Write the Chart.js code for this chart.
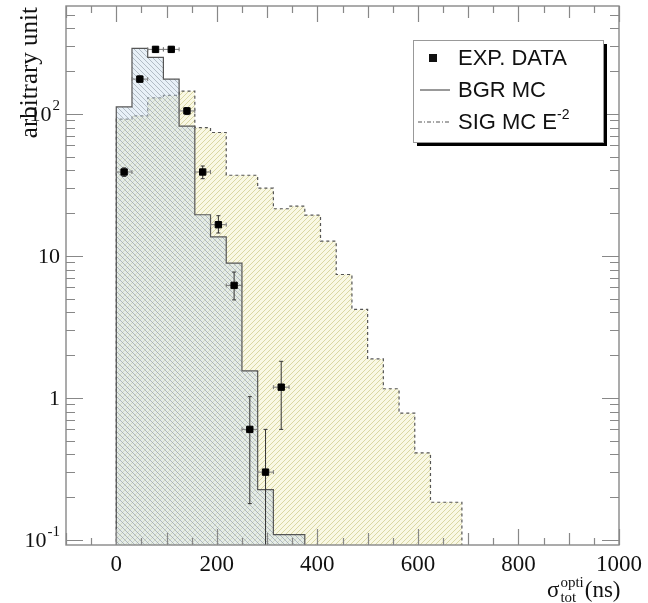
<!DOCTYPE html>
<html>
<head>
<meta charset="utf-8">
<script src="https://cdn.jsdelivr.net/npm/chart.js@4/dist/chart.umd.min.js"></script>
<style>
  html, body { margin: 0; padding: 0; background: #fff; }
</style>
</head>
<body>
<canvas id="chart" width="648" height="603"></canvas>
<script>
// histogram binning (ns)
const binWidth = 31.25;

// signal MC (E^-2), one value per bin starting at 0 ns
const sigValues = [8.8, 92, 97, 130, 135, 145, 80, 74, 37, 37, 30, 21.5,
                   22.4, 19.4, 12.7, 7.4, 4.2, 1.88, 1.16, 0.78, 0.41, 0.184];

// background MC
const bgrValues = [0.54, 112, 290, 250, 176, 82, 19.5, 13.6, 8.9, 1.55, 0.226, 0.109];

// experimental data with errors
const dataX     = [15.6, 46.9, 78.1, 109.4, 140.6, 171.9, 203.1, 234.4, 265.6, 296.9, 328.1];
const dataY     = [39, 176, 285, 285, 105, 39, 16.6, 6.2, 0.60, 0.30, 1.19];
const dataYLow  = [36.3, 168, 272, 272, 99, 35, 14.5, 4.9, 0.18, 0.01, 0.6];
const dataYHigh = [41.7, 185, 298, 298, 111, 43, 19.2, 7.7, 1.02, 0.6, 1.81];
const dataXErr  = 15.6;

// axes
const xMin = -100, xMax = 1000;
const yMin = 0.092, yMax = 576;
const xTickValues = [0, 200, 400, 600, 800, 1000];
const yTickValues = [0.1, 1, 10, 100];
const yTickLabels = [["10", "-1"], ["1", ""], ["10", ""], ["10", "2"]];

const SERIF = "'Liberation Serif', 'DejaVu Serif', serif";
const SANS = "'Liberation Sans', Arial, sans-serif";

const ctx = document.getElementById("chart").getContext("2d");

function hatch(bg, line, dir) {
  const s = 5;
  const c = document.createElement("canvas");
  c.width = s; c.height = s;
  const g = c.getContext("2d");
  g.fillStyle = bg;
  g.fillRect(0, 0, s, s);
  g.strokeStyle = line;
  g.lineWidth = 0.9;
  g.beginPath();
  if (dir > 0) {
    g.moveTo(-1, s + 1); g.lineTo(s + 1, -1);
    g.moveTo(-1, 1); g.lineTo(1, -1);
    g.moveTo(s - 1, s + 1); g.lineTo(s + 1, s - 1);
  } else {
    g.moveTo(-1, -1); g.lineTo(s + 1, s + 1);
    g.moveTo(s - 1, -1); g.lineTo(s + 1, 1);
    g.moveTo(-1, s - 1); g.lineTo(1, s + 1);
  }
  g.stroke();
  return ctx.createPattern(c, "repeat");
}

function histPoints(values) {
  const pts = [{ x: 0, y: 1e-3 }];
  values.forEach((v, i) => pts.push({ x: i * binWidth, y: v }));
  const end = values.length * binWidth;
  pts.push({ x: end, y: values[values.length - 1] });
  pts.push({ x: end, y: 1e-3 });
  return pts;
}

const sigFill = hatch("rgb(249,248,228)", "rgb(214,210,155)", 1);
const bgrFill = hatch("rgba(205,222,238,0.45)", "rgba(130,142,155,0.6)", -1);

// error bars under the data squares
const errorBars = {
  id: "errorBars",
  beforeDatasetDraw(chart, args) {
    if (args.index !== 2) return;
    const { ctx, scales: { x, y }, chartArea: a } = chart;
    ctx.save();
    ctx.beginPath();
    ctx.rect(a.left, a.top, a.right - a.left, a.bottom - a.top);
    ctx.clip();
    dataX.forEach((vx, i) => {
      const px = x.getPixelForValue(vx);
      const py = y.getPixelForValue(dataY[i]);
      const lo = y.getPixelForValue(dataYLow[i]);
      const hi = y.getPixelForValue(dataYHigh[i]);
      const l = x.getPixelForValue(vx - dataXErr);
      const r = x.getPixelForValue(vx + dataXErr);
      ctx.strokeStyle = "#333";
      ctx.lineWidth = 1;
      ctx.beginPath();
      ctx.moveTo(px, lo); ctx.lineTo(px, hi);
      ctx.moveTo(px - 2, lo); ctx.lineTo(px + 2, lo);
      ctx.moveTo(px - 2, hi); ctx.lineTo(px + 2, hi);
      ctx.stroke();
      ctx.strokeStyle = "#777";
      ctx.beginPath();
      ctx.moveTo(l, py); ctx.lineTo(r, py);
      ctx.moveTo(l, py - 2); ctx.lineTo(l, py + 2);
      ctx.moveTo(r, py - 2); ctx.lineTo(r, py + 2);
      ctx.stroke();
    });
    ctx.restore();
  }
};

// frame, inward ticks, y labels and axis titles
const frame = {
  id: "frame",
  afterDatasetsDraw(chart) {
    const { ctx, scales: { x, y }, chartArea: a } = chart;
    ctx.save();
    ctx.strokeStyle = "#888";
    ctx.lineWidth = 1.4;
    ctx.strokeRect(a.left, a.top, a.right - a.left, a.bottom - a.top);

    ctx.lineWidth = 1.2;
    ctx.beginPath();
    for (let v = xMin; v <= xMax; v += 50) {
      const len = v % 200 === 0 ? 16 : v % 100 === 0 ? 12 : 7;
      const px = Math.round(x.getPixelForValue(v)) + 0.5;
      ctx.moveTo(px, a.bottom); ctx.lineTo(px, a.bottom - len);
      ctx.moveTo(px, a.top); ctx.lineTo(px, a.top + len);
    }
    for (let d = -1; d <= 2; d++) {
      for (let m = 1; m <= 9; m++) {
        const v = m * Math.pow(10, d);
        if (v < yMin || v > yMax) continue;
        const len = m === 1 ? 17 : 9;
        const py = Math.round(y.getPixelForValue(v)) + 0.5;
        ctx.moveTo(a.left, py); ctx.lineTo(a.left + len, py);
        ctx.moveTo(a.right, py); ctx.lineTo(a.right - len, py);
      }
    }
    ctx.stroke();

    // y tick labels with exponents
    ctx.fillStyle = "#111";
    ctx.textBaseline = "middle";
    yTickValues.forEach((v, i) => {
      const [base, exp] = yTickLabels[i];
      const py = y.getPixelForValue(v);
      ctx.font = "15px " + SERIF;
      const ew = exp ? ctx.measureText(exp).width + 1 : 0;
      const right = 60;
      if (exp) {
        ctx.textAlign = "right";
        ctx.fillText(exp, right, py - 8);
      }
      ctx.font = "22px " + SERIF;
      ctx.textAlign = "right";
      ctx.fillText(base, right - ew, py + 1);
    });

    // y title, reading upwards from the top corner
    ctx.save();
    ctx.translate(30, 7);
    ctx.rotate(-Math.PI / 2);
    ctx.textAlign = "right";
    ctx.textBaseline = "middle";
    ctx.font = "25px " + SERIF;
    ctx.fillText("arbitrary unit", 0, 0);
    ctx.restore();

    // x title: sigma_tot^opti (ns)
    ctx.textAlign = "left";
    ctx.textBaseline = "alphabetic";
    let tx = 547;
    ctx.font = "23px " + SERIF;
    ctx.fillText("\u03c3", tx, 597);
    tx += ctx.measureText("\u03c3").width + 1;
    ctx.font = "15px " + SERIF;
    ctx.fillText("opti", tx, 587);
    const w1 = ctx.measureText("opti").width;
    ctx.fillText("tot", tx, 602);
    const w2 = ctx.measureText("tot").width;
    tx += Math.max(w1, w2) + 1;
    ctx.font = "23px " + SERIF;
    ctx.fillText("(ns)", tx, 597);
    ctx.restore();
  },
  afterDraw(chart) {
    const { ctx } = chart;
    const bx = 413, by = 40, bw = 190, bh = 102;
    ctx.save();
    ctx.fillStyle = "#000";
    ctx.fillRect(bx + 4, by + 4, bw, bh);
    ctx.fillStyle = "#fff";
    ctx.fillRect(bx, by, bw, bh);
    ctx.strokeStyle = "#999";
    ctx.lineWidth = 1;
    ctx.strokeRect(bx + 0.5, by + 0.5, bw, bh);

    ctx.font = "22px " + SANS;
    ctx.fillStyle = "#111";
    ctx.textBaseline = "middle";
    ctx.textAlign = "left";
    const tx = 458;
    const rows = [58, 90, 122];

    ctx.fillRect(429, rows[0] - 4, 8, 8);
    ctx.fillText("EXP. DATA", tx, rows[0] + 1);

    ctx.strokeStyle = "#555";
    ctx.lineWidth = 1.2;
    ctx.beginPath();
    ctx.moveTo(420, rows[1]); ctx.lineTo(450, rows[1]);
    ctx.stroke();
    ctx.fillText("BGR MC", tx, rows[1] + 1);

    ctx.setLineDash([4, 2, 1, 2]);
    ctx.beginPath();
    ctx.moveTo(418, rows[2]); ctx.lineTo(450, rows[2]);
    ctx.stroke();
    ctx.setLineDash([]);
    const t3 = "SIG MC E";
    ctx.fillText(t3, tx, rows[2] + 1);
    const w3 = ctx.measureText(t3).width;
    ctx.font = "14px " + SANS;
    ctx.fillText("-2", tx + w3, rows[2] - 7);
    ctx.restore();
  }
};

new Chart(ctx, {
  type: "line",
  data: {
    datasets: [
      {
        label: "SIG MC E-2",
        data: histPoints(sigValues),
        stepped: "after",
        fill: "start",
        backgroundColor: sigFill,
        borderColor: "#555",
        borderWidth: 1.2,
        borderDash: [3, 3],
        pointRadius: 0,
        order: 2
      },
      {
        label: "BGR MC",
        data: histPoints(bgrValues),
        stepped: "after",
        fill: "start",
        backgroundColor: bgrFill,
        borderColor: "#555",
        borderWidth: 1.2,
        pointRadius: 0,
        order: 1
      },
      {
        type: "scatter",
        label: "EXP. DATA",
        data: dataX.map((x, i) => ({ x: x, y: dataY[i] })),
        pointStyle: "rect",
        pointRadius: 4.5,
        backgroundColor: "#000",
        borderColor: "#000",
        showLine: false,
        order: 0
      }
    ]
  },
  options: {
    responsive: false,
    animation: false,
    devicePixelRatio: 1,
    layout: { padding: { top: 6, right: 26, left: 0, bottom: 0 } },
    plugins: { legend: { display: false }, tooltip: { enabled: false } },
    scales: {
      x: {
        type: "linear",
        min: xMin,
        max: xMax,
        grid: { display: false, drawTicks: false },
        border: { display: false },
        ticks: {
          font: { family: SERIF, size: 23 },
          color: "#111",
          padding: 6,
          maxRotation: 0,
          autoSkip: false,
          callback: v => String(v)
        },
        afterBuildTicks: s => { s.ticks = xTickValues.map(v => ({ value: v })); },
        afterFit: s => { s.height = 58; }
      },
      y: {
        type: "logarithmic",
        min: yMin,
        max: yMax,
        grid: { display: false, drawTicks: false },
        border: { display: false },
        ticks: { display: false },
        afterFit: s => { s.width = 66; }
      }
    }
  },
  plugins: [errorBars, frame]
});
</script>
</body>
</html>
